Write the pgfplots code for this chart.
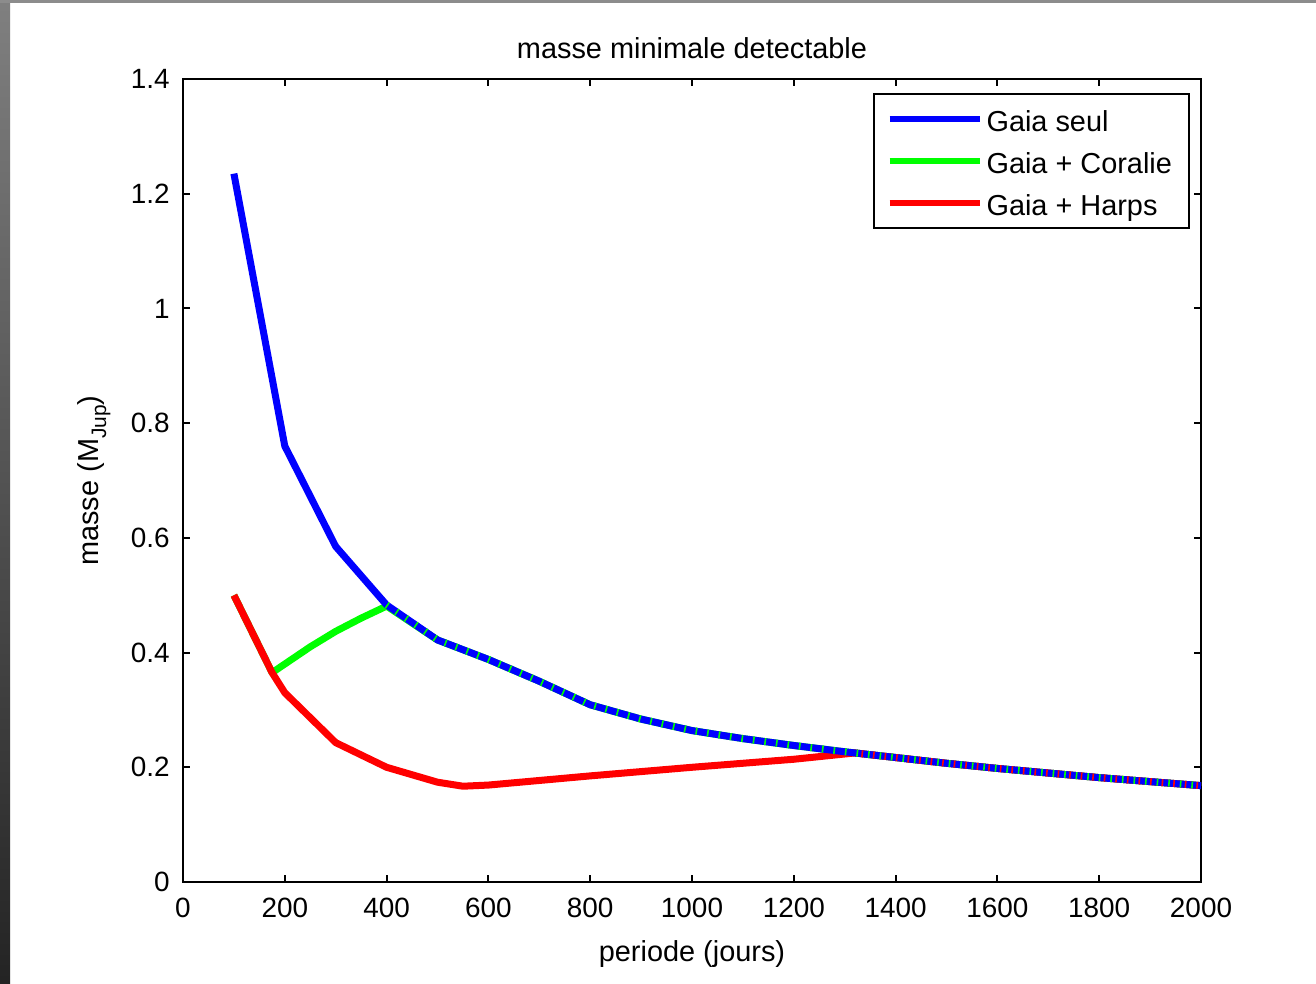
\documentclass[border=0pt]{standalone}
\usepackage{pgfplots}
\pgfplotsset{compat=1.18}
\usepackage{fontspec}
\setmainfont{Liberation Sans}
\begin{document}
\begin{tikzpicture}
\path[use as bounding box] (0,0) rectangle (658bp,492bp);
\fill[white] (0,0) rectangle (658bp,492bp);
\shade[top color=black!50, bottom color=black!86] (0,0) rectangle (5bp,492bp);
\fill[black!45] (0,490.5bp) rectangle (658bp,492bp);
\begin{axis}[
  at={(91.5bp,51bp)}, anchor=south west,
  scale only axis, width=509bp, height=401.5bp,
  xmin=0, xmax=2000, ymin=0, ymax=1.4,
  xtick={0,200,400,600,800,1000,1200,1400,1600,1800,2000},
  xticklabels={0,200,400,600,800,1000,1200,1400,1600,1800,2000},
  ytick={0,0.2,0.4,0.6,0.8,1,1.2,1.4},
  yticklabels={0,0.2,0.4,0.6,0.8,1,1.2,1.4},
  tick align=inside, major tick length=3.5bp,
  xtick pos=both, ytick pos=both,
  axis line style={line width=1bp},
  every tick/.style={black, line width=1bp},
  font=\fontsize{14}{17}\selectfont,
  xticklabel style={anchor=base, yshift=-18bp, inner sep=0pt},
  yticklabel style={anchor=east, xshift=-6.5bp, inner sep=0pt},
  title={masse minimale detectable},
  title style={at={(axis description cs:0.5,1)}, anchor=base, yshift=4.5bp, inner sep=0pt,
    font=\fontsize{14.5}{17}\selectfont},
  xlabel={periode (jours)},
  xlabel style={at={(axis description cs:0.5,-0.0984)}, anchor=base, inner sep=0pt,
    font=\fontsize{14.5}{17}\selectfont},
  ylabel={masse (M\raisebox{-4bp}{\fontsize{10.5}{12}\selectfont Jup})},
  ylabel style={at={(axis description cs:-0.0835,0.5)}, anchor=base, inner sep=0pt,
    font=\fontsize{14.5}{17}\selectfont},
  legend style={at={(axis description cs:1,1)}, anchor=north east, xshift=-5.5bp, yshift=-7bp,
    draw=black, line width=1bp, inner xsep=6.5bp, inner ysep=2bp, row sep=0pt,
    font=\fontsize{14.5}{17}\selectfont,
    nodes={inner ysep=3.75bp, inner xsep=2bp, text height=13bp, text depth=0.5bp}},
  legend cell align=left,
  legend image code/.code={\draw[#1] (0bp,0bp) -- (45bp,0bp);},
]
\addlegendimage{blue, line width=3bp}
\addlegendentry{Gaia seul}
\addlegendimage{green, line width=3bp}
\addlegendentry{Gaia + Coralie}
\addlegendimage{red, line width=3bp}
\addlegendentry{Gaia + Harps}

% Gaia + Coralie
\addplot[green, line width=3.5bp, line join=round, forget plot] coordinates {
(100,0.50) (175,0.365) (250,0.41) (300,0.437) (350,0.46) (400,0.481)
(500,0.422) (600,0.388) (700,0.350) (800,0.309) (900,0.284) (1000,0.264)
(1100,0.250) (1200,0.238) (1300,0.227) (1400,0.217) (1500,0.207) (1600,0.198)
(1700,0.190) (1800,0.182) (1900,0.175) (2000,0.168)
};
% Gaia + Harps
\addplot[red, line width=3.5bp, line join=round, forget plot] coordinates {
(100,0.50) (175,0.365) (200,0.33) (300,0.243) (400,0.200) (500,0.174)
(550,0.167) (600,0.169) (800,0.185) (1000,0.200) (1200,0.214) (1320,0.225)
(1400,0.217) (1500,0.207) (1600,0.198) (1700,0.190) (1800,0.182) (1900,0.175) (2000,0.168)
};
% Gaia seul
\addplot[blue, line width=3.5bp, line join=round, forget plot] coordinates {
(100,1.235) (200,0.76) (300,0.585) (400,0.483) (500,0.422) (600,0.388)
(700,0.350) (800,0.309) (900,0.284) (1000,0.264) (1100,0.250) (1200,0.238)
(1300,0.227) (1400,0.217) (1500,0.207) (1600,0.198) (1700,0.190) (1800,0.182)
(1900,0.175) (2000,0.168)
};
% overlapping segments: thin stripes of the hidden series, as in the original rendering
\addplot[green, line width=3.5bp, dash pattern=on 0.8bp off 5bp, forget plot] coordinates {
(400,0.483) (500,0.422) (600,0.388)
(700,0.350) (800,0.309) (900,0.284) (1000,0.264) (1100,0.250) (1200,0.238)
(1300,0.227) (1400,0.217) (1500,0.207) (1600,0.198) (1700,0.190) (1800,0.182)
(1900,0.175) (2000,0.168)
};
\addplot[red, line width=3.5bp, dash pattern=on 0.8bp off 5bp, dash phase=2.5bp, forget plot] coordinates {
(1320,0.225) (1400,0.217) (1500,0.207) (1600,0.198) (1700,0.190) (1800,0.182)
(1900,0.175) (2000,0.168)
};
\end{axis}
\end{tikzpicture}
\end{document}
